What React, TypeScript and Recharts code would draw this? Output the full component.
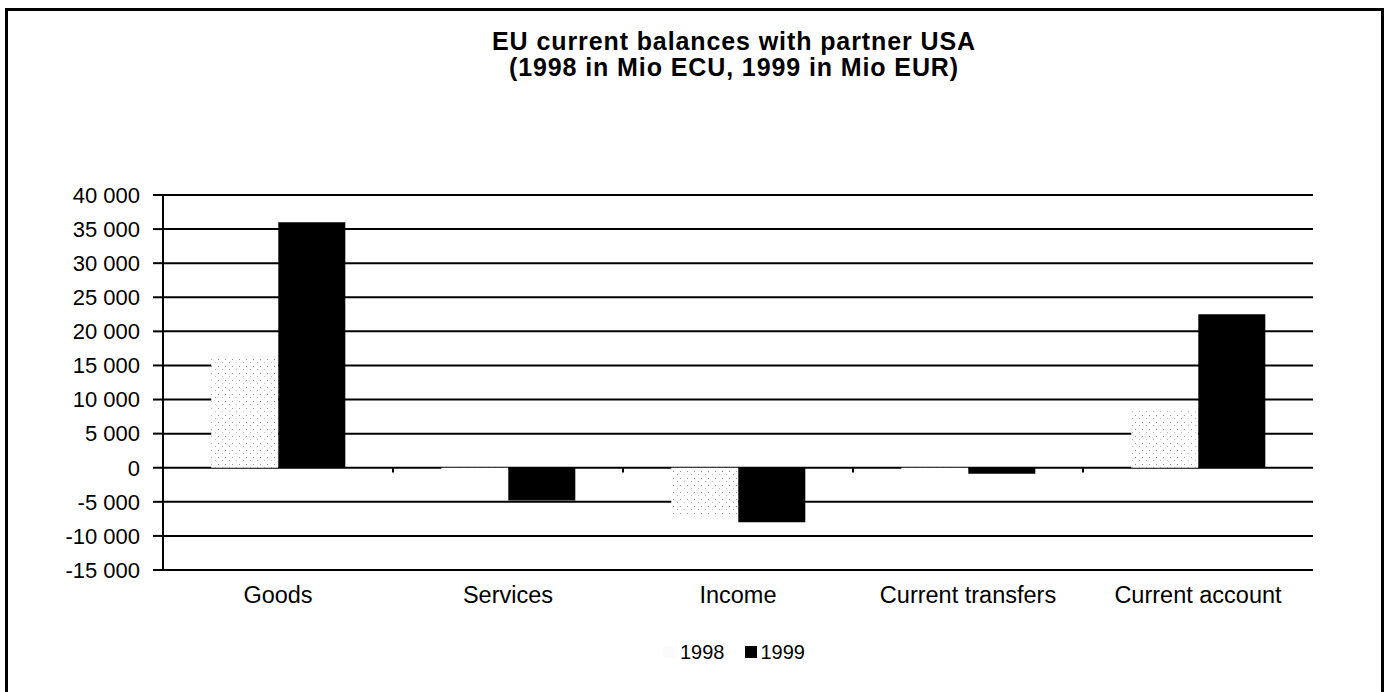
import React from "react";
import {
  BarChart,
  Bar,
  XAxis,
  YAxis,
  CartesianGrid,
  Legend,
  ReferenceLine,
} from "recharts";

const categories = ["Goods", "Services", "Income", "Current transfers", "Current account"];
const values1998 = [16000, -300, -7000, -200, 8500];
const values1999 = [36000, -4800, -8000, -900, 22500];
const yTicks = [-15000, -10000, -5000, 0, 5000, 10000, 15000, 20000, 25000, 30000, 35000, 40000];

const data = categories.map((c, i) => ({
  name: c,
  y1998: values1998[i],
  y1999: values1999[i],
}));

const FONT = "'Liberation Sans', Arial, sans-serif";

const fmt = (v: number) => {
  const s = Math.abs(v).toString().replace(/\B(?=(\d{3})+(?!\d))/g, " ");
  return (v < 0 ? "-" : "") + s;
};

const LegendContent = () => (
  <div
    style={{
      display: "flex",
      justifyContent: "center",
      alignItems: "center",
      fontFamily: FONT,
      fontSize: 20,
      color: "#000",
      height: 24,
      paddingLeft: 84,
    }}
  >
    <span style={{ display: "inline-block", width: 12, height: 12, background: "#fbfbfb", marginRight: 5 }} />
    <span style={{ marginRight: 20 }}>1998</span>
    <span style={{ display: "inline-block", width: 12, height: 12, background: "#000", marginRight: 4 }} />
    <span>1999</span>
  </div>
);

export default function App() {
  return (
    <div style={{ position: "absolute", left: 0, top: 0, width: 1384, height: 692, background: "#fff" }}>
      <div
        style={{
          position: "absolute",
          left: 5,
          top: 8,
          width: 1373,
          height: 690,
          border: "3px solid #000",
          borderBottom: "none",
        }}
      />
      <div
        style={{
          position: "absolute",
          left: 0,
          top: 28,
          width: 1468,
          textAlign: "center",
          fontFamily: FONT,
          fontWeight: "bold",
          fontSize: 25,
          letterSpacing: 0.9,
          lineHeight: "26px",
          color: "#000",
        }}
      >
        EU current balances with partner USA
        <br />
        (1998 in Mio ECU, 1999 in Mio EUR)
      </div>
      <div style={{ position: "absolute", left: 0, top: 0 }}>
        <BarChart
          width={1384}
          height={692}
          data={data}
          margin={{ top: 195, right: 71, bottom: 58, left: 0 }}
          barCategoryGap="21%"
          barGap={0}
        >
          <defs>
            <pattern id="dots" width="7" height="7" patternUnits="userSpaceOnUse">
              <rect width="7" height="7" fill="#ffffff" />
              <rect x="1" y="2" width="1" height="1" fill="#999" />
              <rect x="5" y="5" width="1" height="1" fill="#bbb" />
            </pattern>
          </defs>
          <CartesianGrid vertical={false} stroke="#000" strokeWidth={2} />
          <XAxis
            dataKey="name"
            height={40}
            tickLine={false}
            tickSize={0}
            tickMargin={16}
            axisLine={{ stroke: "#000", strokeWidth: 2 }}
            tick={{ fill: "#000", fontSize: 23.5, fontFamily: FONT }}
            interval={0}
          />
          <YAxis
            width={163}
            domain={[-15000, 40000]}
            ticks={yTicks}
            tickFormatter={fmt}
            tickSize={10}
            tickMargin={13}
            axisLine={{ stroke: "#000", strokeWidth: 2 }}
            tickLine={{ stroke: "#000", strokeWidth: 2 }}
            tick={{ fill: "#000", fontSize: 22, fontFamily: FONT }}
            allowDataOverflow
          />
          <YAxis
            yAxisId="r"
            orientation="right"
            width={0}
            domain={[-15000, 40000]}
            ticks={yTicks}
            tick={false}
            tickLine={false}
            axisLine={{ stroke: "#000", strokeWidth: 2 }}
          />
          <Legend
            verticalAlign="bottom"
            content={<LegendContent />}
            wrapperStyle={{ bottom: 28, height: 24, left: 0, width: 1384 }}
          />
          <Bar dataKey="y1998" name="1998" fill="url(#dots)" isAnimationActive={false} />
          <Bar dataKey="y1999" name="1999" fill="#000" isAnimationActive={false} />
          {categories.slice(1).map((c) => (
            <ReferenceLine
              key={c}
              position="start"
              segment={[
                { x: c, y: 0 },
                { x: c, y: -700 },
              ]}
              stroke="#000"
              strokeWidth={2}
            />
          ))}
        </BarChart>
      </div>
    </div>
  );
}
